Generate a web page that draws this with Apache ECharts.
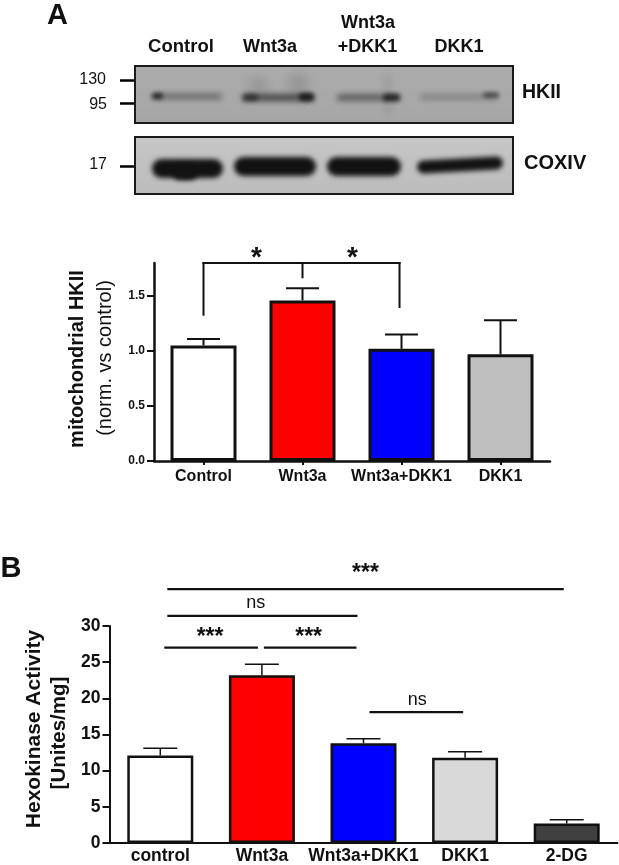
<!DOCTYPE html>
<html>
<head>
<meta charset="utf-8">
<style>
  html, body { margin: 0; padding: 0; background: #fff; }
  #chart { width: 619px; height: 865px; }
</style>
<script src="https://cdn.jsdelivr.net/npm/echarts@6/dist/echarts.min.js"></script>
</head>
<body>
<div id="chart"></div>
<script>
// panel A
const categoriesA = ['Control', 'Wnt3a', 'Wnt3a+DKK1', 'DKK1']
const valuesA = [1.05, 1.46, 1.02, 0.97]
const errorTopA = [1.11, 1.57, 1.15, 1.28]
const colorsA = ['#ffffff', '#ff0000', '#0000ff', '#bebebe']
const ticksA = [0, 0.5, 1, 1.5]
const tickLabelsA = ['0.0', '0.5', '1.0', '1.5']
// x1, y1, x2, y2 in category / value units
const bracketsA = [
  [0, 1.8, 1.98, 1.8],
  [0, 1.8, 0, 1.33],
  [1, 1.8, 1, 1.67],
  [1.98, 1.8, 1.98, 1.4]
]
const sigPosA = [[0.535, 1.84], [1.505, 1.84]]
const sigTextA = ['*', '*']

// panel B
const categoriesB = ['control', 'Wnt3a', 'Wnt3a+DKK1', 'DKK1', '2-DG']
const valuesB = [12.1, 23.2, 13.8, 11.8, 2.7]
const errorTopB = [13.1, 24.7, 14.4, 12.6, 3.2]
const colorsB = ['#ffffff', '#ff0000', '#0000ff', '#d9d9d9', '#404040']
const bracketsB = [
  [0.08, 35.1, 3.96, 35.1],
  [0.08, 31.4, 1.93, 31.4],
  [0.05, 27, 0.95, 27],
  [1.03, 27, 1.92, 27],
  [2.07, 18.1, 2.97, 18.1]
]
const sigPosB = [[2.02, 37.2], [0.94, 33.2], [0.49, 28.4], [1.46, 28.4], [2.53, 19.7]]
const sigTextB = ['***', 'ns', '***', '***', 'ns']

const FONT = '"Liberation Sans", Arial, sans-serif'
const INK = '#111'

const barSeries = (name, values, colors, axisIdx, barWidth, borderWidth) => ({
  name,
  type: 'bar',
  xAxisIndex: axisIdx,
  yAxisIndex: axisIdx,
  barWidth,
  data: values.map((v, i) => ({
    value: v,
    itemStyle: { color: colors[i], borderColor: INK, borderWidth }
  }))
})

// 误差线: stem from the bar top, cap on the upper end
const errorSeries = (values, tops, axisIdx, capWidth, lineWidth) => ({
  type: 'custom',
  xAxisIndex: axisIdx,
  yAxisIndex: axisIdx,
  z: 1,
  data: values.map((v, i) => [i, v, tops[i]]),
  encode: { x: 0, y: [1, 2] },
  renderItem: (params, api) => {
    const low = api.coord([api.value(0), api.value(1)])
    const high = api.coord([api.value(0), api.value(2)])
    const style = { stroke: INK, lineWidth, fill: null }
    return {
      type: 'group',
      children: [
        { type: 'line', shape: { x1: low[0], y1: low[1], x2: high[0], y2: high[1] }, style },
        { type: 'line', shape: { x1: high[0] - capWidth / 2, y1: high[1], x2: high[0] + capWidth / 2, y2: high[1] }, style }
      ]
    }
  }
})

// brackets use the hidden value x axis so they can stop between categories
const bracketSeries = (segments, axisIdx, lineWidth) => ({
  type: 'custom',
  xAxisIndex: axisIdx,
  yAxisIndex: axisIdx - 2,
  data: segments,
  encode: { x: [0, 2], y: [1, 3] },
  renderItem: (params, api) => {
    const a = api.coord([api.value(0), api.value(1)])
    const b = api.coord([api.value(2), api.value(3)])
    return {
      type: 'line',
      shape: { x1: a[0], y1: a[1], x2: b[0], y2: b[1] },
      style: { stroke: INK, lineWidth, lineCap: 'square', fill: null }
    }
  }
})

const sigSeries = (positions, texts, axisIdx, starFont) => ({
  type: 'custom',
  xAxisIndex: axisIdx,
  yAxisIndex: axisIdx - 2,
  data: positions,
  encode: { x: 0, y: 1 },
  renderItem: (params, api) => {
    const p = api.coord([api.value(0), api.value(1)])
    const t = texts[params.dataIndex]
    return {
      type: 'text',
      x: p[0],
      y: p[1],
      style: {
        text: t,
        fill: INK,
        font: (t === 'ns' ? 'normal 18px ' : starFont + ' ') + FONT,
        align: 'center',
        verticalAlign: 'middle'
      }
    }
  }
})

// western blot panels are pictures in the original, approximated with soft shapes.
// the shape itself sits off canvas, only its blurred shadow lands on the blot
const OFF = 2000
const softBand = (x1, x2, cy, h, alpha, blur, rotation) => ({
  type: 'rect',
  shape: { x: -(x2 - x1) / 2 - OFF, y: -h / 2, width: x2 - x1, height: h, r: Math.min(h, x2 - x1) / 2 },
  x: (x1 + x2) / 2,
  y: cy,
  rotation: rotation || 0,
  silent: true,
  style: {
    fill: '#000',
    shadowBlur: blur,
    shadowOffsetX: OFF * Math.cos(rotation || 0),
    shadowOffsetY: -OFF * Math.sin(rotation || 0),
    shadowColor: 'rgba(18,18,18,' + alpha + ')'
  },
  z: 2
})

const BLOT_LEFT = 135
const BLOT_WIDTH = 378

const blotBox = (top, height, c1, c2) => ({
  type: 'rect',
  shape: { x: BLOT_LEFT, y: top, width: BLOT_WIDTH, height },
  style: {
    fill: new echarts.graphic.LinearGradient(0, 0, 0, 1, [
      { offset: 0, color: c1 }, { offset: 1, color: c2 }
    ])
  },
  z: 1
})

const blotFrame = (top, height) => ({
  type: 'rect',
  shape: { x: BLOT_LEFT, y: top, width: BLOT_WIDTH, height },
  style: { fill: null, stroke: '#1a1a1a', lineWidth: 2 },
  z: 3
})

const markerTick = (y) => ({
  type: 'line',
  shape: { x1: 120, y1: y, x2: 135, y2: y },
  style: { stroke: '#000', lineWidth: 2.5 },
  z: 3
})

const label = (text, x, y, font, align, rotation) => ({
  type: 'text',
  x,
  y,
  rotation: rotation || 0,
  style: { text, fill: '#111', font: font + ' ' + FONT, align: align || 'center', verticalAlign: 'middle' },
  z: 4
})

const UP = Math.PI / 2

const graphicItems = [
  label('A', 57.5, 16, 'bold 29px'),
  label('B', 11, 569, 'bold 29px'),
  label('Control', 181, 47, 'bold 18.5px'),
  label('Wnt3a', 270, 47, 'bold 18px'),
  label('Wnt3a', 368, 23, 'bold 18px'),
  label('+DKK1', 367.5, 47, 'bold 18px'),
  label('DKK1', 459, 47, 'bold 18px'),
  label('HKII', 522, 93, 'bold 19.5px', 'left'),
  label('COXIV', 524, 163, 'bold 20px', 'left'),
  label('130', 106, 80, 'normal 16px', 'right'),
  label('95', 107, 105, 'normal 16px', 'right'),
  label('17', 107, 165, 'normal 16px', 'right'),
  markerTick(80.5),
  markerTick(103.5),
  markerTick(166.5),
  // y titles are placed by hand, the two lines are offset from the axis centre
  label('mitochondrial HKII', 77, 359, 'bold 20px', 'center', UP),
  label('(norm. vs control)', 105, 358, 'normal 20px', 'center', UP),
  label('Hexokinase Activity', 34, 729, 'bold 21px', 'center', UP),
  label('[Unites/mg]', 59, 733, 'bold 20.5px', 'center', UP),
  blotBox(66, 57, '#ababab', '#a6a6a6'),
  blotBox(137, 57, '#c6c6c6', '#bcbcbc'),
  // HKII bands
  softBand(152, 222, 96.5, 4, 0.62, 6),
  softBand(152, 163, 96, 6, 0.8, 4),
  softBand(242, 314, 97.5, 6, 0.78, 6),
  softBand(243, 258, 97.5, 7, 0.55, 4),
  softBand(299, 314, 97, 8, 0.85, 4),
  softBand(248, 268, 85, 14, 0.14, 12),
  softBand(288, 308, 83, 18, 0.16, 12),
  softBand(337, 400, 97.5, 5, 0.68, 6),
  softBand(383, 400, 97.5, 7, 0.75, 4),
  softBand(385, 390, 94, 44, 0.12, 8),
  softBand(420, 498, 97, 3, 0.5, 6),
  softBand(483, 499, 95, 5, 0.6, 4),
  // COXIV bands
  softBand(152, 223, 168.5, 19, 1, 5),
  softBand(172, 198, 172, 16, 1, 5),
  softBand(234, 316, 166.5, 19, 1, 5),
  softBand(327, 401, 166.5, 19, 1, 5),
  softBand(417, 503, 165, 13, 1, 5, 0.055),
  blotFrame(66, 57),
  blotFrame(137, 57)
]

const axisStyle = (lineWidth) => ({ onZero: false, lineStyle: { color: INK, width: lineWidth } })

const option = {
  animation: false,
  backgroundColor: '#fff',
  textStyle: { fontFamily: FONT },
  grid: [
    { left: 154, top: 263, width: 396, height: 198 },
    { left: 109.5, top: 626, width: 508, height: 217 }
  ],
  xAxis: [
    {
      type: 'category',
      gridIndex: 0,
      data: categoriesA,
      axisLine: axisStyle(2.5),
      axisTick: { show: true, alignWithLabel: true, length: 4, lineStyle: { color: INK, width: 2 } },
      axisLabel: { interval: 0, color: INK, fontFamily: FONT, fontWeight: 'bold', fontSize: 16, margin: 8 }
    },
    {
      type: 'category',
      gridIndex: 1,
      data: categoriesB,
      axisLine: axisStyle(2),
      axisTick: { show: false },
      axisLabel: { interval: 0, color: INK, fontFamily: FONT, fontWeight: 'bold', fontSize: 17.5, margin: 4 }
    },
    { type: 'value', gridIndex: 0, min: -0.5, max: 3.5, show: false },
    { type: 'value', gridIndex: 1, min: -0.5, max: 4.5, show: false }
  ],
  yAxis: [
    {
      type: 'value',
      gridIndex: 0,
      min: 0,
      max: 1.8,
      splitLine: { show: false },
      axisLine: { show: true, ...axisStyle(2.5) },
      axisTick: { show: true, length: 7, lineStyle: { color: INK, width: 2 }, customValues: ticksA },
      axisLabel: {
        color: INK,
        fontFamily: FONT,
        fontWeight: 'bold',
        fontSize: 12,
        margin: 9,
        customValues: ticksA,
        formatter: (v) => tickLabelsA[ticksA.indexOf(v)]
      }
    },
    {
      type: 'value',
      gridIndex: 1,
      min: 0,
      max: 30,
      interval: 5,
      splitLine: { show: false },
      axisLine: { show: true, ...axisStyle(2) },
      axisTick: { show: true, length: 7, lineStyle: { color: INK, width: 2 } },
      axisLabel: { color: INK, fontFamily: FONT, fontWeight: 'bold', fontSize: 17.5, margin: 9 }
    }
  ],
  series: [
    errorSeries(valuesA, errorTopA, 0, 33, 2),
    barSeries('mitochondrial HKII', valuesA, colorsA, 0, 66, 3),
    bracketSeries(bracketsA, 2, 2),
    sigSeries(sigPosA, sigTextA, 2, 'bold 28px'),
    errorSeries(valuesB, errorTopB, 1, 34, 1.5),
    barSeries('Hexokinase Activity', valuesB, colorsB, 1, 66, 2.5),
    bracketSeries(bracketsB, 3, 2.2),
    sigSeries(sigPosB, sigTextB, 3, 'bold 23px')
  ],
  graphic: graphicItems
}

const myChart = echarts.init(document.getElementById('chart'), null, { renderer: 'canvas' })
myChart.setOption(option)
</script>
</body>
</html>
